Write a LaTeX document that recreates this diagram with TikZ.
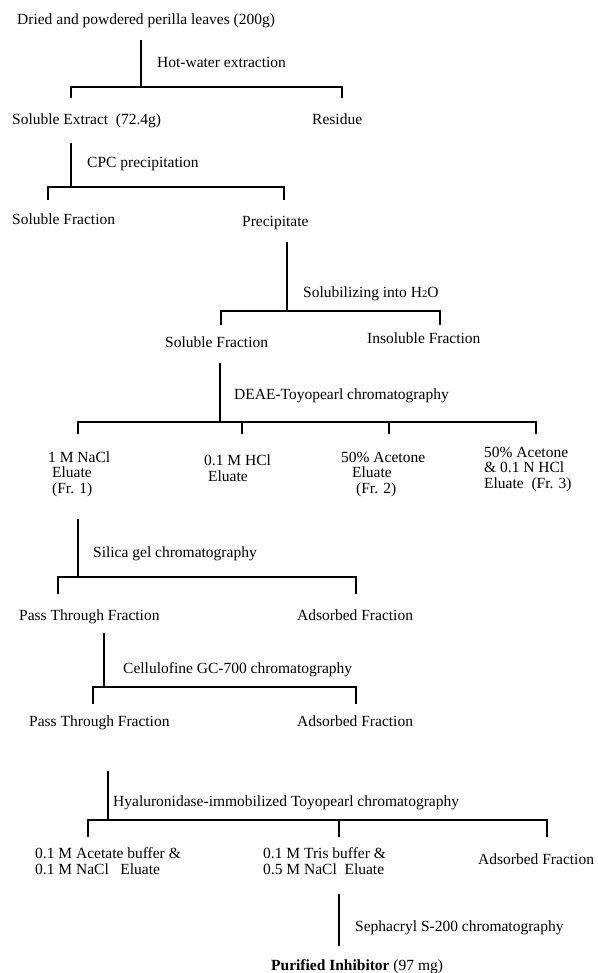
\documentclass[tikz,border=0pt]{standalone}
\usepackage{fontspec}
\setmainfont{Liberation Serif}
\newcommand{\subtwo}{\raisebox{-0.6pt}{\fontsize{10.5}{10.5}\selectfont 2}}
\begin{document}
\begin{tikzpicture}[x=1pt,y=-1pt,
  txt/.style={font=\fontsize{15.5}{15.5}\selectfont, inner sep=0pt, anchor=base west, align=left},
  ln/.style={line width=1.2pt, line cap=rect}]
\useasboundingbox (0,0) rectangle (597,973);
% texts (multi-line nodes: position = baseline of last line)
\node[txt] (n0) at (17,25) {Dried and powdered perilla leaves (200g)};
\node[txt] (p1) at (157,68) {Hot-water extraction};
\node[txt] (n1) at (12,125) {Soluble Extract\ \ (72.4g)};
\node[txt] (n2) at (312,125) {Residue};
\node[txt] (p2) at (87,168) {CPC precipitation};
\node[txt] (n3) at (12,225) {Soluble Fraction};
\node[txt] (n4) at (242,227) {Precipitate};
\node[txt] (p3) at (303,297) {Solubilizing into H\subtwo O};
\node[txt] (n5) at (165,347) {Soluble Fraction};
\node[txt] (n6) at (367,343) {Insoluble Fraction};
\node[txt] (p4) at (234,399) {DEAE-Toyopearl chromatography};
\node[txt] (n7) at (48,493) {1 M NaCl\\\hspace*{4pt}Eluate\\\hspace*{4pt}(Fr. 1)};
\node[txt] (n8) at (204,481) {0.1 M HCl\\\hspace*{4pt}Eluate};
\node[txt] (n9) at (341,493) {50\% Acetone\\\hspace*{11pt}Eluate\\\hspace*{15pt}(Fr. 2)};
\node[txt] (n10) at (484,488) {50\% Acetone\\\& 0.1 N HCl\\Eluate\ \ (Fr. 3)};
\node[txt] (p5) at (93,557) {Silica gel chromatography};
\node[txt] (n11) at (19,620) {Pass Through Fraction};
\node[txt] (n12) at (297,620) {Adsorbed Fraction};
\node[txt] (p6) at (123,673) {Cellulofine GC-700 chromatography};
\node[txt] (n13) at (29,726) {Pass Through Fraction};
\node[txt] (n14) at (297,726) {Adsorbed Fraction};
\node[txt] (p7) at (113,806) {Hyaluronidase-immobilized Toyopearl chromatography};
\node[txt] (n15) at (35,874) {0.1 M Acetate buffer \&\\0.1 M NaCl\ \ \ Eluate};
\node[txt] (n16) at (263,874) {0.1 M Tris buffer \&\\0.5 M NaCl\ \ Eluate};
\node[txt] (n17) at (478,864) {Adsorbed Fraction};
\node[txt] (p8) at (355,931) {Sephacryl S-200 chromatography};
\node[txt] (n18) at (271,970) {\textbf{Purified Inhibitor} (97 mg)};
% connector coordinates
\coordinate (a1) at (141,41);  \coordinate (j1) at (141,87);
\coordinate (l1) at (71,87);   \coordinate (r1) at (342,87);
\coordinate (a2) at (71,144);  \coordinate (j2) at (71,187);
\coordinate (l2) at (48,187);  \coordinate (r2) at (284,187);
\coordinate (a3) at (287,243); \coordinate (j3) at (287,311);
\coordinate (l3) at (221,311); \coordinate (r3) at (440,311);
\coordinate (a4) at (220,364); \coordinate (j4) at (220,422);
\coordinate (l4) at (78,422);  \coordinate (r4) at (536,422);
\coordinate (m4a) at (242,422); \coordinate (m4b) at (389,422);
\coordinate (a5) at (78,520);  \coordinate (j5) at (78,577);
\coordinate (l5) at (58,577);  \coordinate (r5) at (356,577);
\coordinate (a6) at (104,634); \coordinate (j6) at (104,687);
\coordinate (l6) at (93,687);  \coordinate (r6) at (356,687);
\coordinate (a7) at (108,772); \coordinate (j7) at (108,820);
\coordinate (l7) at (88,820);  \coordinate (r7) at (547,820);
\coordinate (m7) at (339,820);
\coordinate (a8) at (339,895); \coordinate (b8) at (339,945);
% connectors
\draw[ln] (a1) -- (j1);
\draw[ln] (l1 |- 0,97) -- (l1) -- (r1) -- (r1 |- 0,97);
\draw[ln] (a2) -- (j2);
\draw[ln] (l2 |- 0,199) -- (l2) -- (r2) -- (r2 |- 0,199);
\draw[ln] (a3) -- (j3);
\draw[ln] (l3 |- 0,324) -- (l3) -- (r3) -- (r3 |- 0,324);
\draw[ln] (a4) -- (j4);
\draw[ln] (l4 |- 0,433) -- (l4) -- (r4) -- (r4 |- 0,433);
\draw[ln] (m4a) -- (m4a |- 0,433);
\draw[ln] (m4b) -- (m4b |- 0,433);
\draw[ln] (a5) -- (j5);
\draw[ln] (l5 |- 0,593) -- (l5) -- (r5) -- (r5 |- 0,593);
\draw[ln] (a6) -- (j6);
\draw[ln] (l6 |- 0,703) -- (l6) -- (r6) -- (r6 |- 0,703);
\draw[ln] (a7) -- (j7);
\draw[ln] (l7 |- 0,836) -- (l7) -- (r7) -- (r7 |- 0,836);
\draw[ln] (m7) -- (m7 |- 0,836);
\draw[ln] (a8) -- (b8);
\end{tikzpicture}
\end{document}
